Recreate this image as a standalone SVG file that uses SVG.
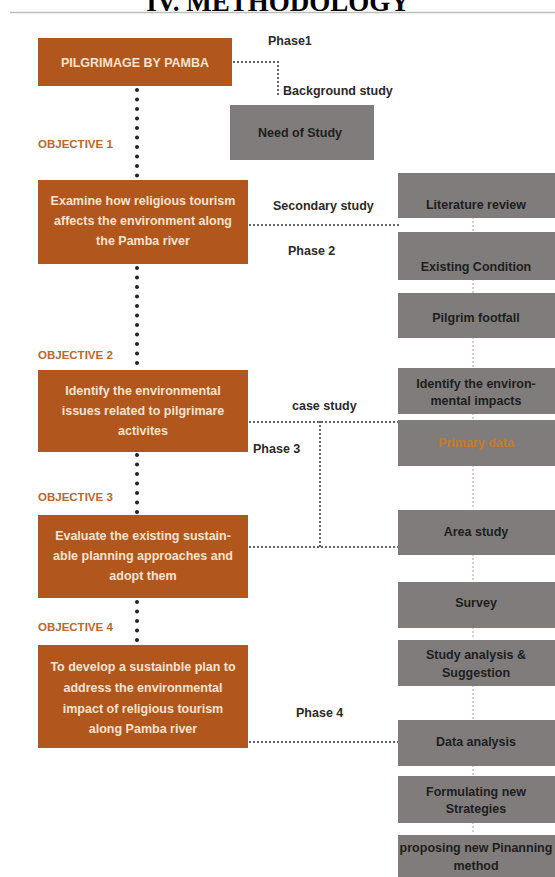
<svg xmlns="http://www.w3.org/2000/svg" width="555" height="877" viewBox="0 0 555 877">
<style>
.ob{fill:#b1561c}
.gb{fill:#7f7c7b}
.ot{font-family:"Liberation Sans",Arial,sans-serif;font-weight:bold;font-size:12.5px;fill:#f6e3d0;text-anchor:middle}
.gt{font-family:"Liberation Sans",Arial,sans-serif;font-weight:bold;font-size:12.5px;fill:#1e1e1e;text-anchor:middle}
.lb{font-family:"Liberation Sans",Arial,sans-serif;font-weight:bold;font-size:12.5px;fill:#2a2a2a}
.obj{font-family:"Liberation Sans",Arial,sans-serif;font-weight:bold;font-size:11.5px;fill:#b9682e}
.dl{stroke:#222;stroke-width:4;stroke-linecap:round;stroke-dasharray:0 9.5;fill:none}
.ds{stroke:#333;stroke-width:2;stroke-linecap:round;stroke-dasharray:0 4;fill:none}
.dr{stroke:#a08a80;stroke-width:1.5;stroke-linecap:round;stroke-dasharray:0 4;fill:none}
</style>
<rect width="555" height="877" fill="#fff"/>
<text x="278" y="11" font-family="Liberation Serif,serif" font-weight="bold" font-size="27" text-anchor="middle" fill="#000">IV. METHODOLOGY</text>
<line x1="10" y1="12.5" x2="555" y2="12.5" stroke="#bdbdbd" stroke-width="1.5"/>

<g id="connectors">
<path class="dl" d="M137 90 V178"/>
<path class="dl" d="M137 268 V368"/>
<path class="dl" d="M137 455 V513"/>
<path class="dl" d="M137 602 V643"/>
<path class="ds" d="M234 62 H278 V98"/>
<path class="ds" d="M250 225 H400"/>
<path class="ds" d="M250 422 H400"/>
<path class="ds" d="M320 422 V547"/>
<path class="ds" d="M250 547 H400"/>
<path class="ds" d="M250 742 H400"/>
<path class="dr" d="M473 218 V232"/>
<path class="dr" d="M473 280 V293"/>
<path class="dr" d="M473 338 V368"/>
<path class="dr" d="M473 414 V420"/>
<path class="dr" d="M473 466 V510"/>
<path class="dr" d="M473 555 V582"/>
<path class="dr" d="M473 628 V640"/>
<path class="dr" d="M473 686 V720"/>
<path class="dr" d="M473 766 V776"/>
<path class="dr" d="M473 823 V835"/>
</g>

<g id="labels">
<text class="lb" x="268" y="45">Phase1</text>
<text class="lb" x="283" y="95">Background study</text>
<text class="lb" x="273" y="210">Secondary study</text>
<text class="lb" x="288" y="255">Phase 2</text>
<text class="lb" x="292" y="410">case study</text>
<text class="lb" x="253" y="453">Phase 3</text>
<text class="lb" x="296" y="717">Phase 4</text>
<text class="obj" x="38" y="148">OBJECTIVE 1</text>
<text class="obj" x="38" y="359">OBJECTIVE 2</text>
<text class="obj" x="38" y="501">OBJECTIVE 3</text>
<text class="obj" x="38" y="631">OBJECTIVE 4</text>
</g>

<g id="pilgrimage">
<rect class="ob" x="38" y="38" width="194" height="48"/>
<text class="ot" x="135" y="67" font-size="13.5">PILGRIMAGE BY PAMBA</text>
</g>
<g id="need-of-study">
<rect class="gb" x="230" y="105" width="144" height="55"/>
<text class="gt" x="300" y="137">Need of Study</text>
</g>
<g id="objective1">
<rect class="ob" x="38" y="180" width="210" height="84"/>
<text class="ot" x="143" y="205">Examine how religious tourism</text>
<text class="ot" x="143" y="225">affects the environment along</text>
<text class="ot" x="143" y="245">the Pamba river</text>
</g>
<g id="objective2">
<rect class="ob" x="38" y="370" width="210" height="82"/>
<text class="ot" x="143" y="395">Identify the environmental</text>
<text class="ot" x="143" y="415">issues related to pilgrimare</text>
<text class="ot" x="143" y="435">activites</text>
</g>
<g id="objective3">
<rect class="ob" x="38" y="515" width="210" height="83"/>
<text class="ot" x="143" y="540">Evaluate the existing sustain-</text>
<text class="ot" x="143" y="560">able planning approaches and</text>
<text class="ot" x="143" y="580">adopt them</text>
</g>
<g id="objective4">
<rect class="ob" x="38" y="645" width="210" height="103"/>
<text class="ot" x="143" y="671">To develop a sustainble plan to</text>
<text class="ot" x="143" y="692">address the environmental</text>
<text class="ot" x="143" y="713">impact of religious tourism</text>
<text class="ot" x="143" y="733">along Pamba river</text>
</g>

<g id="literature-review">
<rect class="gb" x="398" y="173" width="157" height="45"/>
<text class="gt" x="476" y="209">Literature review</text>
</g>
<g id="existing-condition">
<rect class="gb" x="398" y="232" width="157" height="48"/>
<text class="gt" x="476" y="271">Existing Condition</text>
</g>
<g id="pilgrim-footfall">
<rect class="gb" x="398" y="293" width="157" height="45"/>
<text class="gt" x="476" y="322">Pilgrim footfall</text>
</g>
<g id="identify-impacts">
<rect class="gb" x="398" y="368" width="157" height="46"/>
<text class="gt" x="476" y="388">Identify the environ-</text>
<text class="gt" x="476" y="405">mental impacts</text>
</g>
<g id="primary-data">
<rect class="gb" x="398" y="420" width="157" height="46"/>
<text class="gt" x="476" y="447" style="fill:#c77a2a">Primary data</text>
</g>
<g id="area-study">
<rect class="gb" x="398" y="510" width="157" height="45"/>
<text class="gt" x="476" y="536">Area study</text>
</g>
<g id="survey">
<rect class="gb" x="398" y="582" width="157" height="46"/>
<text class="gt" x="476" y="607">Survey</text>
</g>
<g id="study-analysis">
<rect class="gb" x="398" y="640" width="157" height="46"/>
<text class="gt" x="476" y="659">Study analysis &amp;</text>
<text class="gt" x="476" y="677">Suggestion</text>
</g>
<g id="data-analysis">
<rect class="gb" x="398" y="720" width="157" height="46"/>
<text class="gt" x="476" y="746">Data analysis</text>
</g>
<g id="formulating">
<rect class="gb" x="398" y="776" width="157" height="47"/>
<text class="gt" x="476" y="796">Formulating new</text>
<text class="gt" x="476" y="813">Strategies</text>
</g>
<g id="proposing">
<rect class="gb" x="398" y="835" width="157" height="42"/>
<text class="gt" x="476" y="852">proposing new Pinanning</text>
<text class="gt" x="476" y="870">method</text>
</g>
</svg>
